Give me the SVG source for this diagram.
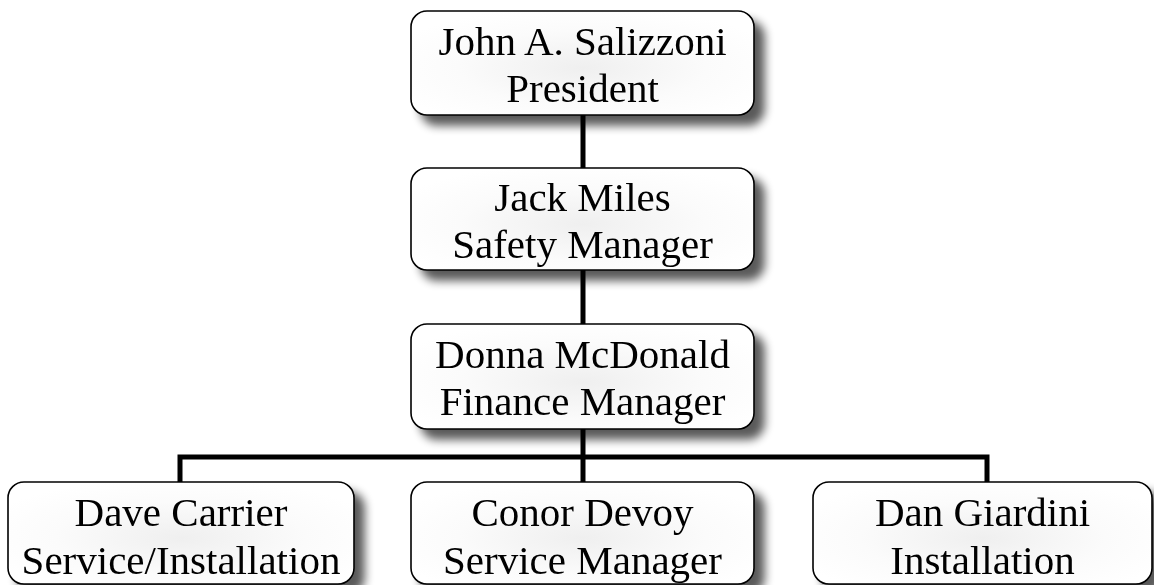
<svg xmlns="http://www.w3.org/2000/svg" width="1154" height="585" viewBox="0 0 1154 585">
<defs>
<filter id="sh" x="-10%" y="-20%" width="130%" height="160%">
<feGaussianBlur in="SourceAlpha" stdDeviation="5" result="b"/>
<feOffset in="b" dx="10" dy="10" result="o"/>
<feComponentTransfer in="o" result="s"><feFuncA type="linear" slope="0.65"/></feComponentTransfer>
<feMerge><feMergeNode in="s"/><feMergeNode in="SourceGraphic"/></feMerge>
</filter>
<radialGradient id="g" cx="0.5" cy="0.55" r="0.6">
<stop offset="0" stop-color="#efefef"/>
<stop offset="0.6" stop-color="#fbfbfb"/>
<stop offset="1" stop-color="#ffffff"/>
</radialGradient>
</defs>
<style>
.box{fill:url(#g);stroke:#000;stroke-width:1.6}
.t{font-family:"Liberation Serif","Times New Roman",serif;font-size:41px;fill:#000;text-anchor:middle}
.c{stroke:#000;stroke-width:5;fill:none}
</style>
<rect width="1154" height="585" fill="#fff"/>
<g id="connectors">
<line class="c" x1="583" y1="115" x2="583" y2="168"/>
<line class="c" x1="583" y1="270" x2="583" y2="324"/>
<line class="c" x1="583" y1="429" x2="583" y2="482"/>
<polyline class="c" points="180,482 180,457 987,457 987,482"/>
</g>
<g id="n1" filter="url(#sh)">
<rect class="box" x="411" y="11" width="343" height="104" rx="16"/>
<text class="t" x="582.5" y="55">John A. Salizzoni</text>
<text class="t" x="582.5" y="102">President</text>
</g>
<g id="n2" filter="url(#sh)">
<rect class="box" x="411" y="168" width="343" height="102" rx="16"/>
<text class="t" x="582.5" y="211">Jack Miles</text>
<text class="t" x="582.5" y="258">Safety Manager</text>
</g>
<g id="n3" filter="url(#sh)">
<rect class="box" x="411" y="324" width="343" height="105" rx="16"/>
<text class="t" x="582.5" y="368">Donna McDonald</text>
<text class="t" x="582.5" y="415">Finance Manager</text>
</g>
<g id="n4" filter="url(#sh)">
<rect class="box" x="8" y="482" width="346" height="102" rx="16"/>
<text class="t" x="181" y="526">Dave Carrier</text>
<text class="t" x="181" y="574">Service/Installation</text>
</g>
<g id="n5" filter="url(#sh)">
<rect class="box" x="411" y="482" width="343" height="102" rx="16"/>
<text class="t" x="582.5" y="526">Conor Devoy</text>
<text class="t" x="582.5" y="574">Service Manager</text>
</g>
<g id="n6" filter="url(#sh)">
<rect class="box" x="813" y="482" width="339" height="102" rx="16"/>
<text class="t" x="982.5" y="526">Dan Giardini</text>
<text class="t" x="982.5" y="574">Installation</text>
</g>
</svg>
